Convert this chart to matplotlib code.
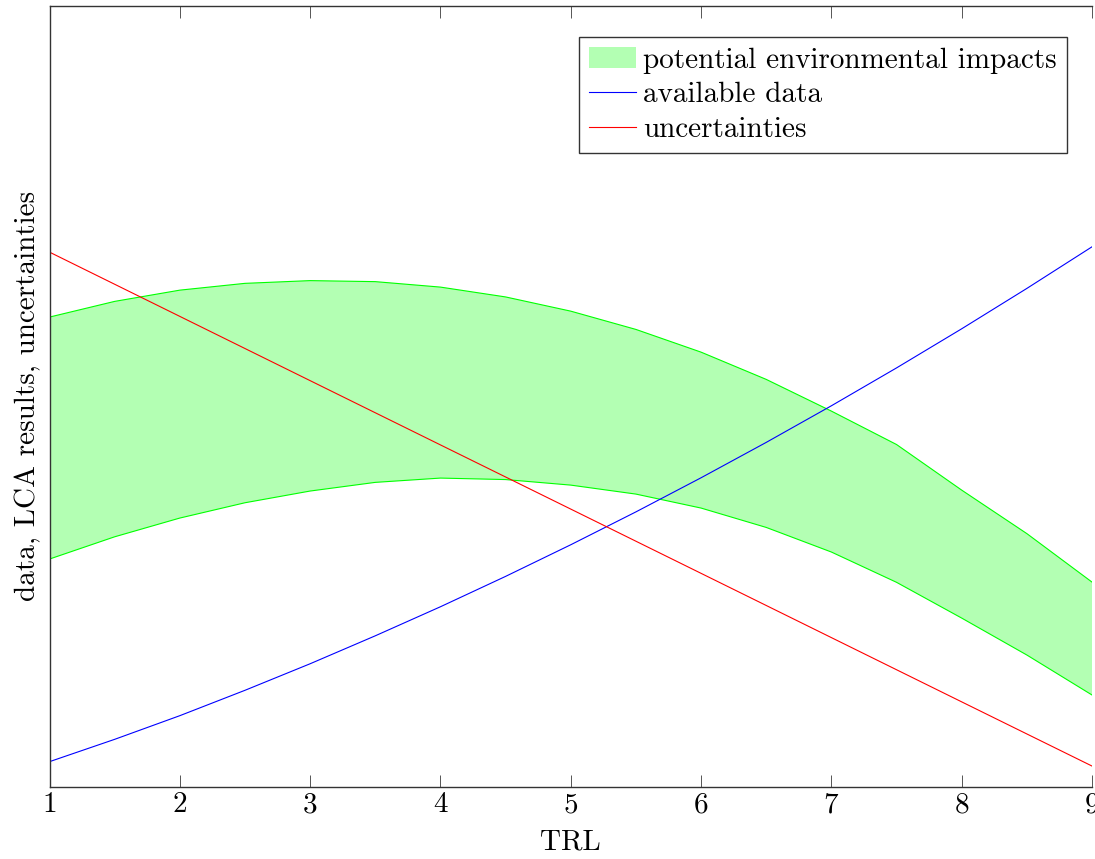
import numpy as np
import matplotlib
matplotlib.use("Agg")
import matplotlib.pyplot as plt

# TRL levels in half steps
trl = [1, 1.5, 2, 2.5, 3, 3.5, 4, 4.5, 5, 5.5, 6, 6.5, 7, 7.5, 8, 8.5, 9]

# band of potential environmental impacts (upper / lower edge)
impacts_upper = [60.12, 62.13, 63.57, 64.44, 64.79, 64.66, 63.96, 62.70, 60.88,
                 58.54, 55.63, 52.14, 48.08, 43.80, 37.96, 32.39, 26.18]
impacts_lower = [29.13, 31.98, 34.38, 36.34, 37.84, 38.95, 39.50, 39.31, 38.60,
                 37.45, 35.66, 33.18, 30.03, 26.15, 21.57, 16.84, 11.72]

available_data = [3.18, 6.04, 9.07, 12.32, 15.72, 19.30, 23.02, 26.91, 30.96,
                  35.17, 39.54, 44.07, 48.76, 53.61, 58.62, 63.79, 69.12]

trl_int = [1, 2, 3, 4, 5, 6, 7, 8, 9]
uncertainties = [68.44, 60.21, 51.98, 43.75, 35.53, 27.30, 19.07, 10.84, 2.62]

plt.rcParams['font.family'] = ['cmr10', 'DejaVu Serif']
plt.rcParams['mathtext.fontset'] = 'cm'
plt.rcParams['axes.formatter.use_mathtext'] = True

fs = 21

fig = plt.figure(figsize=(10.95, 8.59), dpi=100)
ax = fig.add_axes([49.5 / 1095, 72.5 / 859, 1042.5 / 1095, 780.8 / 859])

ax.fill_between(trl, impacts_lower, impacts_upper, facecolor='#b3ffb3',
                edgecolor='none', label='potential environmental impacts')
ax.plot(trl, impacts_upper, color='#00ff00', lw=0.8)
ax.plot(trl, impacts_lower, color='#00ff00', lw=0.8)
ax.plot(trl, available_data, color='#0000ff', lw=0.8, label='available data')
ax.plot(trl_int, uncertainties, color='#ff0000', lw=0.8, label='uncertainties')

ax.set_xlim(1, 9)
ax.set_ylim(0, 100)
ax.set_xticks(trl_int)
ax.set_yticks([])
ax.tick_params(axis='x', direction='in', top=True, length=8.5, width=0.7,
               labelsize=fs, pad=4, color='#555555')
ax.spines['right'].set_visible(False)
for s in ['left', 'top', 'bottom']:
    ax.spines[s].set_linewidth(1.0)
    ax.spines[s].set_color('#333333')

ax.set_xlabel('TRL', fontsize=fs, labelpad=8)
ax.set_ylabel('data, LCA results, uncertainties', fontsize=fs, labelpad=6)

leg = ax.legend(loc='upper right', bbox_to_anchor=(1067 / 1095, 1 - 37 / 859),
                bbox_transform=fig.transFigure, fontsize=fs, fancybox=False,
                framealpha=1, edgecolor='#333333', handlelength=1.6,
                handletextpad=0.25, borderpad=0.35, labelspacing=0.28,
                borderaxespad=0)
leg.get_frame().set_linewidth(1.0)

fig.savefig('out.png', dpi=100)
